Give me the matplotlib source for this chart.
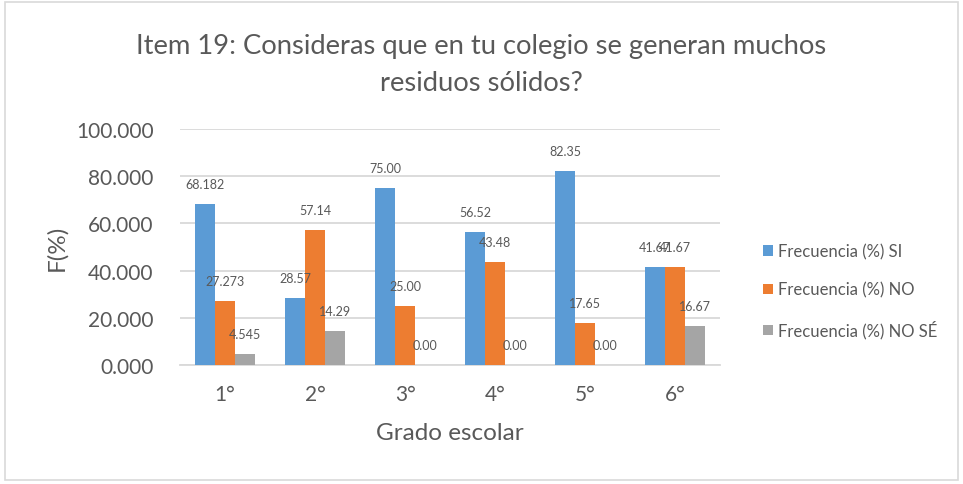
import matplotlib
matplotlib.use("Agg")
import matplotlib.pyplot as plt
from matplotlib.patches import Rectangle
import numpy as np

plt.rcParams['font.family'] = ['Lato', 'DejaVu Sans']

# Data
grades = ["1°", "2°", "3°", "4°", "5°", "6°"]
si = [68.182, 28.57, 75.00, 56.52, 82.35, 41.67]
no = [27.273, 57.14, 25.00, 43.48, 17.65, 41.67]
no_se = [4.545, 14.29, 0.00, 0.00, 0.00, 16.67]
si_labels = ["68.182", "28.57", "75.00", "56.52", "82.35", "41.67"]
no_labels = ["27.273", "57.14", "25.00", "43.48", "17.65", "41.67"]
no_se_labels = ["4.545", "14.29", "0.00", "0.00", "0.00", "16.67"]
series_names = ["Frecuencia (%) SI", "Frecuencia (%) NO", "Frecuencia (%) NO SÉ"]
y_ticks = [0, 20, 40, 60, 80, 100]

colors = ["#5B9BD5", "#ED7D31", "#A5A5A5"]
text_color = "#595959"

fig = plt.figure(figsize=(9.63, 4.85), dpi=100)
fig.patch.set_facecolor("white")

# Chart border
fig.patches.append(Rectangle((0.005, 0.008), 0.99, 0.985, transform=fig.transFigure,
                             fill=False, edgecolor="#D9D9D9", linewidth=1.2))

ax = fig.add_axes([0.187, 0.2454, 0.561, 0.4866])
x = np.arange(len(grades))
w = 1 / 4.5

all_series = [si, no, no_se]
all_labels = [si_labels, no_labels, no_se_labels]
for i, (vals, labs) in enumerate(zip(all_series, all_labels)):
    pos = x + (i - 1) * w
    ax.bar(pos, vals, width=w, color=colors[i], label=series_names[i], zorder=3)
    for p, v, lab in zip(pos, vals, labs):
        ax.annotate(lab, (p, v), xytext=(0, 14.4), textcoords="offset points",
                    ha="center", va="center", fontsize=9, color=text_color, zorder=4)

ax.set_xlim(-0.5, len(grades) - 0.5)
ax.set_ylim(0, 100)
ax.set_yticks(y_ticks)
ax.set_yticklabels([f"{t:.3f}" for t in y_ticks], fontsize=15, color=text_color)
ax.set_xticks(x)
ax.set_xticklabels(grades, fontsize=15, color=text_color)
ax.tick_params(axis="x", length=0, pad=14)
ax.tick_params(axis="y", length=0, pad=19)
ax.grid(axis="y", color="#D9D9D9", linewidth=1.3, zorder=0)
for s in ["top", "right", "left"]:
    ax.spines[s].set_visible(False)
ax.spines["bottom"].set_color("#D9D9D9")
ax.spines["bottom"].set_linewidth(1.3)

ax.set_xlabel("Grado escolar", fontsize=17.5, color=text_color, labelpad=13)
ax.set_ylabel("F(%)", fontsize=17.5, color=text_color, labelpad=6)

fig.text(0.5, 0.866, "Item 19: Consideras que en tu colegio se generan muchos\nresiduos sólidos?",
         ha="center", va="center", fontsize=19.7, color=text_color, linespacing=1.62)

leg = ax.legend(loc="center left", bbox_to_anchor=(763 / 963, 1 - 292 / 485),
                bbox_transform=fig.transFigure, borderaxespad=0, borderpad=0,
                frameon=False, fontsize=12, labelcolor=text_color,
                handlelength=0.6, handleheight=0.6, handletextpad=0.3,
                labelspacing=1.35)

fig.savefig("out.png", dpi=100)
